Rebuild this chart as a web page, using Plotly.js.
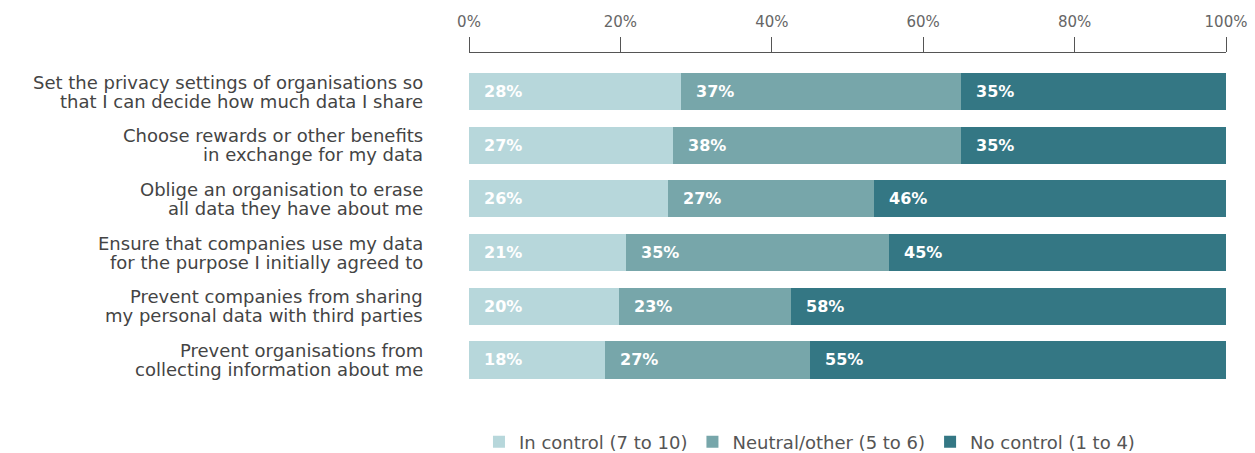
<!DOCTYPE html>
<html>
<head>
<meta charset="utf-8">
<script src="https://cdn.plot.ly/plotly-3.0.1.min.js"></script>
<style>html,body{margin:0;padding:0;background:#fff;}#chart{width:1255px;height:453px;}</style>
</head>
<body>
<div id="chart"></div>
<script>
const categories = [
  "Set the privacy settings of organisations so<br>that I can decide how much data I share",
  "Choose rewards or other benefits<br>in exchange for my data",
  "Oblige an organisation to erase<br>all data they have about me",
  "Ensure that companies use my data<br>for the purpose I initially agreed to",
  "Prevent companies from sharing<br>my personal data with third parties",
  "Prevent organisations from<br>collecting information about me"
];
const inControl = [28, 27, 26, 21, 20, 18];
const neutral   = [37, 38, 27, 35, 23, 27];
const noControl = [35, 35, 46, 45, 58, 55];
const seriesNames = ["In control (7 to 10)", "Neutral/other (5 to 6)", "No control (1 to 4)"];
const tickVals = [0, 20, 40, 60, 80, 100];
const tickText = ["0%", "20%", "40%", "60%", "80%", "100%"];

const colors = ["#b7d7db", "#77a6aa", "#347784"];
const series = [inControl, neutral, noControl];
const font = "'DejaVu Sans', 'Open Sans', sans-serif";

const traces = series.map((vals, i) => ({
  type: "bar",
  orientation: "h",
  y: categories,
  x: vals,
  name: seriesNames[i],
  marker: {color: colors[i], line: {width: 0}},
  hoverinfo: "none"
}));

const annotations = [];
categories.forEach((cat, r) => {
  // category label lines, right aligned left of the plot
  const lines = cat.split("<br>");
  lines.forEach((ln, k) => {
    annotations.push({
      x: 0, xref: "paper", y: cat, yref: "y",
      text: ln, showarrow: false, xanchor: "right", xshift: -44,
      yshift: (lines.length - 1) * 9.5 - k * 19,
      font: {family: font, size: 18, color: "#444"}
    });
  });
  // value labels at the normalised start of each segment
  const total = inControl[r] + neutral[r] + noControl[r];
  let cum = 0;
  series.forEach((vals, i) => {
    annotations.push({
      x: cum / total * 100, y: cat, xref: "x", yref: "y",
      text: "<b>" + vals[r] + "%</b>", showarrow: false,
      xanchor: "left", xshift: 13,
      font: {family: font, size: 16, color: "#ffffff"}
    });
    cum += vals[r];
  });
});

const layout = {
  width: 1255, height: 453,
  margin: {l: 469, r: 29, t: 53, b: 63, autoexpand: false},
  barmode: "stack",
  barnorm: "percent",
  bargap: 0.31,
  paper_bgcolor: "#fff", plot_bgcolor: "#fff",
  showlegend: true,
  legend: {
    orientation: "h", x: 0.645, xanchor: "center", xref: "container",
    y: 0.024, yanchor: "middle", yref: "container",
    font: {family: font, size: 18, color: "#555"},
    traceorder: "normal", itemwidth: 30
  },
  xaxis: {
    side: "top", range: [0, 100], tickvals: tickVals, ticktext: tickText,
    ticks: "outside", ticklen: 15, tickcolor: "#555", tickwidth: 1,
    showline: true, linecolor: "#555", linewidth: 1, showgrid: false, zeroline: false,
    tickfont: {family: font, size: 15, color: "#666"}, ticklabelstandoff: 4,
    fixedrange: true
  },
  yaxis: {
    type: "category", range: [5.559, -0.717], showgrid: false, zeroline: false,
    showline: false, ticks: "", showticklabels: false, fixedrange: true
  },
  annotations: annotations
};

Plotly.newPlot("chart", traces, layout, {displayModeBar: false, staticPlot: true});
</script>
</body>
</html>
